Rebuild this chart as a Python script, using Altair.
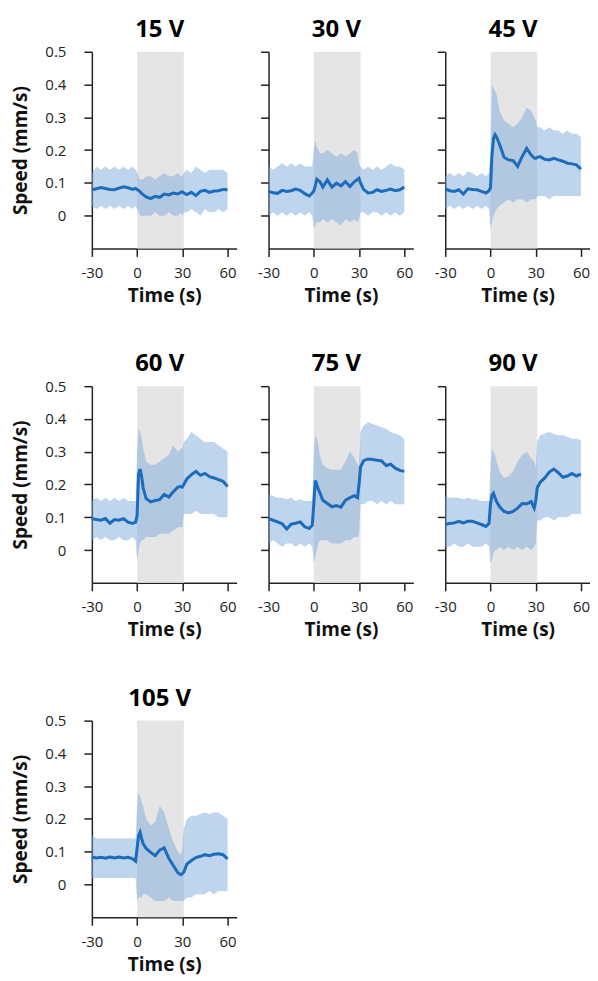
import altair as alt
import pandas as pd

# ---------------- data ----------------
T = [-30, -27, -24, -21, -18, -15, -12, -9, -6, -3, -1,
     0, 1, 2, 3, 4, 6, 9, 12, 15, 18, 21, 24, 27, 29, 30,
     31, 33, 36, 39, 42, 45, 48, 51, 54, 57, 60]

LABELS = ["15 V", "30 V", "45 V", "60 V", "75 V", "90 V", "105 V"]

mean_15 = [.079, .082, .086, .083, .080, .079, .084, .088, .085, .080, .083,
           .080, .077, .073, .068, .064, .057, .052, .059, .056, .066, .063, .069, .066, .071, .073,
           .069, .064, .071, .061, .074, .077, .071, .075, .076, .080, .079]
hi_15 = [.13, .15, .14, .15, .14, .15, .14, .15, .14, .15, .14,
         .13, .12, .11, .11, .11, .12, .12, .11, .12, .13, .12, .12, .13, .12, .12,
         .13, .14, .13, .15, .14, .13, .14, .14, .14, .14, .13]
lo_15 = [.03, .02, .03, .02, .03, .02, .03, .02, .03, .02, .03,
         .02, .01, .00, .00, .00, .00, .00, .01, .00, .00, .01, .00, .00, .01, .00,
         .01, .01, .02, .01, .00, .02, .01, .01, .02, .01, .02]

mean_30 = [.074, .070, .068, .077, .074, .076, .081, .077, .067, .060, .069,
           .075, .091, .111, .107, .104, .087, .109, .087, .099, .091, .104, .089, .104, .110, .114,
           .100, .080, .069, .071, .079, .074, .077, .081, .076, .079, .087]
hi_30 = [.15, .14, .15, .16, .15, .16, .15, .16, .15, .15, .15,
         .20, .23, .21, .20, .19, .19, .20, .19, .18, .19, .18, .19, .20, .19, .16,
         .15, .14, .15, .14, .15, .14, .15, .16, .15, .15, .14]
lo_30 = [.00, .01, .00, .01, .00, .01, .00, .01, .00, .01, .00,
         -.04, -.03, -.02, -.02, -.02, -.01, -.02, -.01, -.02, -.03, -.01, -.02, -.01, -.02, -.01,
         .01, .01, .00, .01, .01, .00, .01, .00, .01, .00, .01]

mean_45 = [.082, .076, .074, .079, .066, .082, .080, .079, .074, .069, .076,
           .085, .185, .235, .247, .240, .218, .178, .170, .168, .150, .180, .205, .185, .176, .175,
           .178, .180, .172, .170, .175, .170, .166, .160, .158, .155, .142]
hi_45 = [.12, .13, .12, .13, .12, .135, .13, .12, .13, .12, .13,
         .20, .40, .39, .38, .37, .32, .29, .28, .27, .28, .30, .33, .32, .30, .29,
         .27, .27, .26, .27, .26, .26, .25, .26, .25, .25, .24]
lo_45 = [.02, .03, .02, .03, .02, .03, .02, .03, .02, .03, .02,
         -.04, -.02, .00, .01, .02, .03, .04, .05, .04, .05, .05, .04, .05, .05, .05,
         .06, .06, .06, .05, .06, .06, .06, .06, .06, .06, .06]

mean_60 = [.096, .093, .091, .096, .082, .093, .091, .096, .085, .081, .085,
           .105, .232, .247, .225, .190, .157, .147, .151, .154, .170, .162, .178, .192, .194, .192,
           .200, .217, .230, .240, .228, .234, .224, .220, .215, .210, .194]
hi_60 = [.15, .16, .15, .16, .15, .16, .15, .16, .15, .15, .15,
         .30, .37, .36, .34, .31, .27, .26, .26, .27, .28, .29, .32, .30, .31, .31,
         .33, .34, .36, .35, .34, .33, .33, .33, .32, .31, .30]
lo_60 = [.03, .04, .03, .04, .03, .03, .04, .03, .03, .04, .03,
         -.03, .00, .02, .03, .03, .04, .04, .04, .05, .05, .05, .06, .07, .07, .07,
         .11, .11, .11, .12, .11, .11, .11, .11, .10, .10, .10]

mean_75 = [.096, .091, .086, .080, .064, .079, .082, .086, .071, .066, .076,
           .140, .212, .200, .185, .175, .152, .142, .132, .136, .131, .152, .160, .166, .160, .200,
           .253, .273, .278, .276, .274, .272, .258, .262, .250, .243, .240]
hi_75 = [.17, .165, .16, .16, .155, .16, .15, .155, .15, .15, .15,
         .30, .35, .34, .32, .29, .26, .25, .245, .245, .245, .27, .30, .28, .26, .26,
         .36, .38, .39, .385, .38, .375, .37, .36, .355, .35, .34]
lo_75 = [.02, .03, .02, .01, .02, .02, .01, .02, .01, .02, .01,
         -.04, -.02, .00, .02, .03, .03, .03, .02, .02, .02, .03, .03, .04, .04, .05,
         .14, .14, .15, .15, .14, .15, .14, .15, .14, .14, .14]

mean_90 = [.079, .081, .083, .088, .083, .088, .088, .083, .078, .072, .081,
           .140, .168, .174, .160, .148, .132, .118, .113, .118, .128, .142, .141, .148, .128, .150,
           .190, .207, .220, .238, .247, .236, .222, .226, .234, .226, .232]
hi_90 = [.165, .16, .16, .16, .155, .16, .155, .155, .15, .15, .15,
         .25, .31, .30, .29, .27, .24, .22, .225, .24, .27, .29, .30, .28, .27, .25,
         .33, .35, .355, .36, .355, .35, .35, .345, .34, .34, .335]
lo_90 = [.01, .01, .02, .01, .01, .02, .01, .01, .01, .02, .01,
         -.04, -.03, -.01, .00, .00, .01, .00, .01, .00, .01, .00, .01, .00, .01, .02,
         .09, .09, .10, .10, .09, .10, .10, .10, .11, .11, .11]

mean_105 = [.084, .081, .083, .080, .084, .081, .084, .081, .083, .078, .071,
            .110, .150, .160, .140, .125, .110, .098, .088, .105, .112, .080, .058, .036, .030, .033,
            .038, .062, .073, .082, .086, .091, .088, .092, .094, .091, .078]
hi_105 = [.15, .14, .14, .14, .14, .14, .14, .14, .14, .14, .14,
          .24, .28, .27, .25, .24, .20, .18, .19, .24, .22, .17, .13, .10, .09, .11,
          .17, .20, .21, .21, .215, .22, .215, .22, .22, .21, .20]
lo_105 = [.02, .02, .02, .02, .02, .02, .02, .02, .02, .02, .02,
          -.05, -.04, -.04, -.04, -.03, -.03, -.04, -.05, -.05, -.05, -.04, -.05, -.05, -.05, -.05,
          -.05, -.04, -.04, -.03, -.03, -.03, -.02, -.03, -.02, -.02, -.02]

MEANS = [mean_15, mean_30, mean_45, mean_60, mean_75, mean_90, mean_105]
HIS = [hi_15, hi_30, hi_45, hi_60, hi_75, hi_90, hi_105]
LOS = [lo_15, lo_30, lo_45, lo_60, lo_75, lo_90, lo_105]

SHADE = [0, 31]            # stimulus window (s)
TITLE_AT = 15              # titles centred over the middle of the recorded time range
X_DOMAIN = [-30, 66]
Y_DOMAIN = [-0.1, 0.5]
X_TICKS = [-30, 0, 30, 60]
Y_TICKS = [0, 0.1, 0.2, 0.3, 0.4, 0.5]

FONT = "Open Sans"
W, H = 145, 197
LINE_COLOR = "#1c6cbd"
BAND_COLOR = "#7fa9dc"
GRAY = "#e5e5e5"
LABEL_SIZE = 15
TITLE_SIZE = 24


def panel(label, mean, lo, hi, first):
    df = pd.DataFrame({"t": T, "mean": mean, "lo": lo, "hi": hi})
    shade = pd.DataFrame({"x": [SHADE[0]], "x2": [SHADE[1]],
                          "y": [Y_DOMAIN[0]], "y2": [Y_DOMAIN[1]]})
    head = pd.DataFrame({"label": [label], "t": [TITLE_AT]})
    xs = alt.Scale(domain=X_DOMAIN, nice=False, zero=False)
    ys = alt.Scale(domain=Y_DOMAIN, nice=False, zero=False)
    xax = alt.Axis(values=X_TICKS, labelExpr="datum.value + ''", grid=False,
                   labelPadding=9, titlePadding=6, labelFlush=False)
    if first:
        yax = alt.Axis(values=Y_TICKS, format=".1~f", grid=False, labelPadding=18,
                       titlePadding=14)
        ytitle = "Speed (mm/s)"
    else:
        yax = alt.Axis(values=Y_TICKS, labels=False, grid=False)
        ytitle = None

    rect = alt.Chart(shade).mark_rect(color=GRAY).encode(
        x=alt.X("x:Q", scale=xs, axis=xax, title="Time (s)"),
        x2="x2",
        y=alt.Y("y:Q", scale=ys, axis=yax, title=ytitle),
        y2="y2",
    )
    band = alt.Chart(df).mark_area(color=BAND_COLOR, opacity=0.5).encode(
        x=alt.X("t:Q", scale=xs, axis=xax, title="Time (s)"),
        y=alt.Y("lo:Q", scale=ys, axis=yax, title=ytitle),
        y2="hi",
    )
    line = alt.Chart(df).mark_line(color=LINE_COLOR, strokeWidth=3).encode(
        x=alt.X("t:Q", scale=xs, axis=xax, title="Time (s)"),
        y=alt.Y("mean:Q", scale=ys, axis=yax, title=ytitle),
    )
    title = alt.Chart(head).mark_text(
        font=FONT, fontSize=TITLE_SIZE, fontWeight="bold", color="#000",
        align="center", baseline="alphabetic", dy=-15,
    ).encode(
        x=alt.X("t:Q", scale=xs, axis=xax, title="Time (s)"),
        y=alt.value(0),
        text="label:N",
    )
    return alt.layer(rect, band, line, title).properties(width=W, height=H)


panels = [panel(LABELS[i], MEANS[i], LOS[i], HIS[i], i % 3 == 0) for i in range(7)]

row1 = alt.hconcat(*panels[0:3], spacing=21)
row2 = alt.hconcat(*panels[3:6], spacing=21)
row3 = alt.hconcat(panels[6], spacing=21)

chart = alt.vconcat(row1, row2, row3, spacing=47).configure_view(
    stroke=None
).configure_axis(
    domainColor="#222", domainWidth=1.5, tickColor="#222", tickWidth=1.5, tickSize=8,
    labelFont=FONT, labelFontSize=LABEL_SIZE, labelColor="#222",
    titleFont=FONT, titleFontSize=19, titleFontWeight="bold", titleColor="#111",
).properties(padding={"left": 3, "top": 9, "right": 0, "bottom": 4})

chart.save("out.html", embed_options={"renderer": "svg", "actions": False})
